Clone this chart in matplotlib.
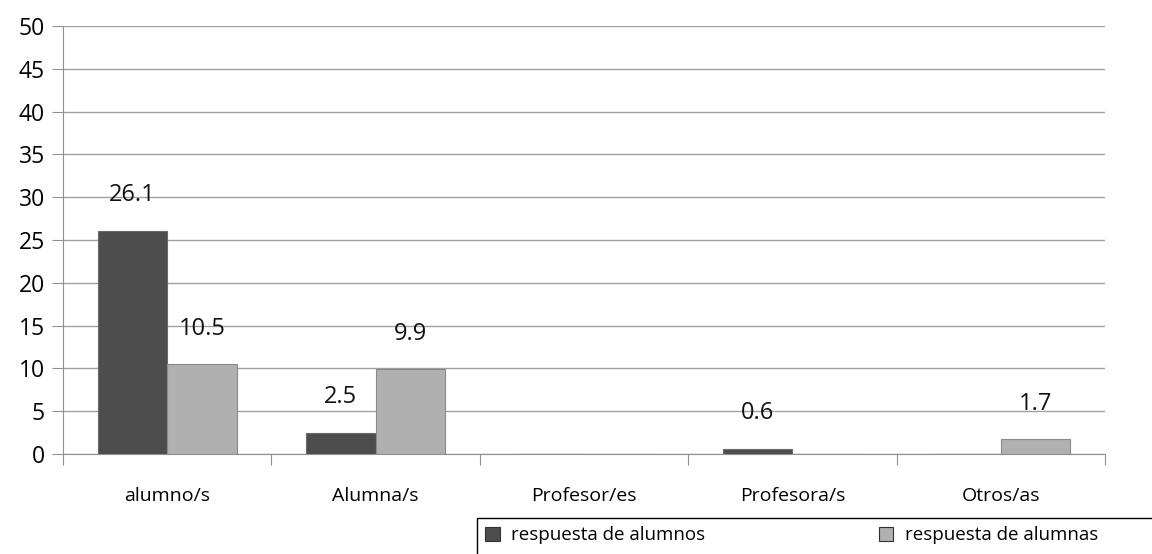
import numpy as np
import matplotlib.pyplot as plt
from matplotlib.patches import Rectangle

categories = ["alumno/s", "Alumna/s", "Profesor/es", "Profesora/s", "Otros/as"]
alumnos = [26.1, 2.5, 0, 0.6, 0]
alumnas = [10.5, 9.9, 0, 0, 1.7]
series_names = ["respuesta de alumnos", "respuesta de alumnas"]

plt.rcParams['font.family'] = ['Open Sans', 'DejaVu Sans']

fig = plt.figure(figsize=(11.52, 5.54), dpi=100)
ax = fig.add_axes([63 / 1152, 1 - 454 / 554, (1105 - 63) / 1152, (454 - 26) / 554])

x = np.arange(len(categories))
w = 0.333
b1 = ax.bar(x - w / 2, alumnos, w, color="#4d4d4d", edgecolor="#6a6a6a", linewidth=0.8,
            label=series_names[0], zorder=3)
b2 = ax.bar(x + w / 2, alumnas, w, color="#b0b0b0", edgecolor="#8a8a8a", linewidth=0.8,
            label=series_names[1], zorder=3)

# data labels only where there is a value
for bars, vals in [(b1, alumnos), (b2, alumnas)]:
    for rect, v in zip(bars, vals):
        if v > 0:
            ax.annotate(f"{v:.1f}", (rect.get_x() + rect.get_width() / 2, v),
                        xytext=(0, 17), textcoords="offset points",
                        ha="center", va="bottom", fontsize=17, color="#111111")

ax.set_xlim(-0.5, len(categories) - 0.5)
ax.set_ylim(0, 50)
ax.set_yticks(np.arange(0, 51, 5))
ax.tick_params(axis="y", labelsize=16.5, length=8, color="#909090", pad=5)
ax.yaxis.grid(True, color="#a0a0a0", linewidth=1)
ax.set_axisbelow(True)

ax.set_xticks(np.arange(-0.5, len(categories), 1))
ax.set_xticklabels([])
ax.set_xticks(x, minor=True)
ax.set_xticklabels(categories, minor=True)
ax.tick_params(axis="x", which="major", length=8, color="#909090")
ax.tick_params(axis="x", which="minor", length=0, labelsize=14, pad=24)

for s in ["top", "right"]:
    ax.spines[s].set_visible(False)
for s in ["left", "bottom"]:
    ax.spines[s].set_color("#909090")

# legend box runs off the right and bottom edge, like the original
leg = fig.legend(loc="upper left", bbox_to_anchor=(477 / 1152, 1 - 518 / 554), ncol=2,
                 fontsize=13.5, frameon=False,
                 handlelength=0.75, handleheight=0.75, handletextpad=0.6,
                 columnspacing=9.3, borderpad=0.45, borderaxespad=0)
for h in leg.legend_handles:
    h.set_edgecolor("#333333")
fig.patches.append(Rectangle((477 / 1152, -0.02), 0.6, (554 - 518) / 554 + 0.02,
                             transform=fig.transFigure, fill=False,
                             edgecolor="black", linewidth=1))

fig.savefig("out.png", dpi=100)
